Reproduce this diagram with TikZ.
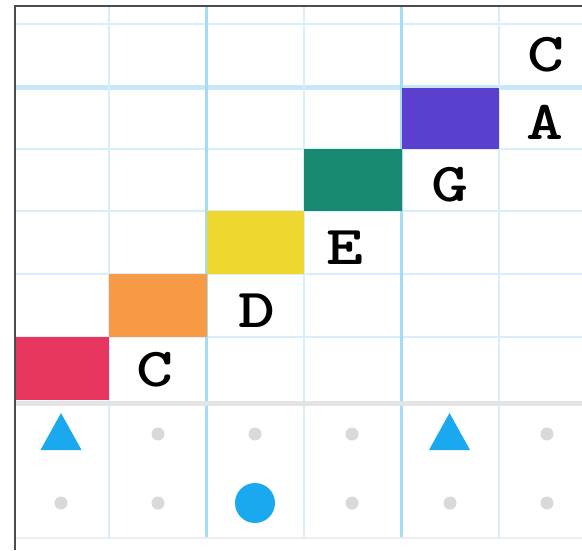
\documentclass[tikz,border=0pt]{standalone}
\usepackage{fontspec}
\usepackage{graphicx}
\definecolor{gthin}{HTML}{D8EFFB}
\definecolor{gthick}{HTML}{C6E8FA}
\definecolor{gvert}{HTML}{A6DBF6}
\definecolor{sep}{HTML}{E4E4E4}
\definecolor{dotc}{HTML}{D9D9D9}
\definecolor{bluec}{HTML}{1AA9EF}
\definecolor{redc}{HTML}{E8365F}
\definecolor{orangec}{HTML}{F79A45}
\definecolor{yellowc}{HTML}{EED82F}
\definecolor{tealc}{HTML}{188A72}
\definecolor{purplec}{HTML}{5B3FCF}
\newcommand{\wide}[1]{\scalebox{1.28}[1.0]{#1}}
\tikzset{
  thinline/.style={gthin, line width=2pt},
  thickh/.style={gthick, line width=5pt},
  thickv/.style={gvert, line width=3pt},
  lbl/.style={font=\ttfamily\bfseries\fontsize{55}{55}\selectfont, inner sep=0pt, anchor=center},
  dotm/.style={fill=dotc, draw=none},
  tri/.style={fill=bluec, draw=none}
}
\begin{document}
\begin{tikzpicture}[x=1pt,y=-1pt]
\useasboundingbox (0,0) rectangle (582,550);
\fill[white] (0,0) rectangle (582,550);
% horizontal grid lines
\foreach \y in {24,149,211,274,337} \draw[thinline] (15,\y) -- (582,\y);
\draw[thickh] (15,87.5) -- (582,87.5);
% vertical grid lines
\foreach \x in {109,304,499} \draw[thinline] (\x,6) -- (\x,538);
\foreach \x in {206.5,401.5} \draw[thickv] (\x,6) -- (\x,538);
% colored blocks
\fill[redc] (15,337) rectangle (109,400);
\fill[orangec] (109,274) rectangle (206.5,337);
\fill[yellowc] (206.5,211) rectangle (304,274);
\fill[tealc] (304,149) rectangle (401.5,211);
\fill[purplec] (401.5,87.5) rectangle (499,149);
% separator
\draw[sep, line width=5pt] (15,403) -- (582,403);
\draw[black!7, line width=1.5pt] (15,538) -- (582,538);
% borders
\draw[black!70, line width=1.3pt] (15,550) -- (15,6) -- (582,6);
% labels
\node[lbl] (lc1) at (155,370) {\wide{C}};
\node[lbl] (ld) at (257,311) {\wide{D}};
\node[lbl] (le) at (345,248) {\wide{E}};
\node[lbl] (lg) at (450,185) {\wide{G}};
\node[lbl] (la) at (545,122) {\wide{A}};
\node[lbl] (lc2) at (546,55) {\wide{C}};
% bottom symbols
\fill[tri] (61,413) -- (81.5,450) -- (40.5,450) -- cycle;
\fill[tri] (449.5,413) -- (470,450) -- (429,450) -- cycle;
\foreach \x in {158,255,352,547} \fill[dotm] (\x,434) circle (6.5);
\foreach \x in {61,158,352,450,547} \fill[dotm] (\x,503) circle (6.5);
\fill[bluec] (255,503) circle (20);
\end{tikzpicture}
\end{document}
